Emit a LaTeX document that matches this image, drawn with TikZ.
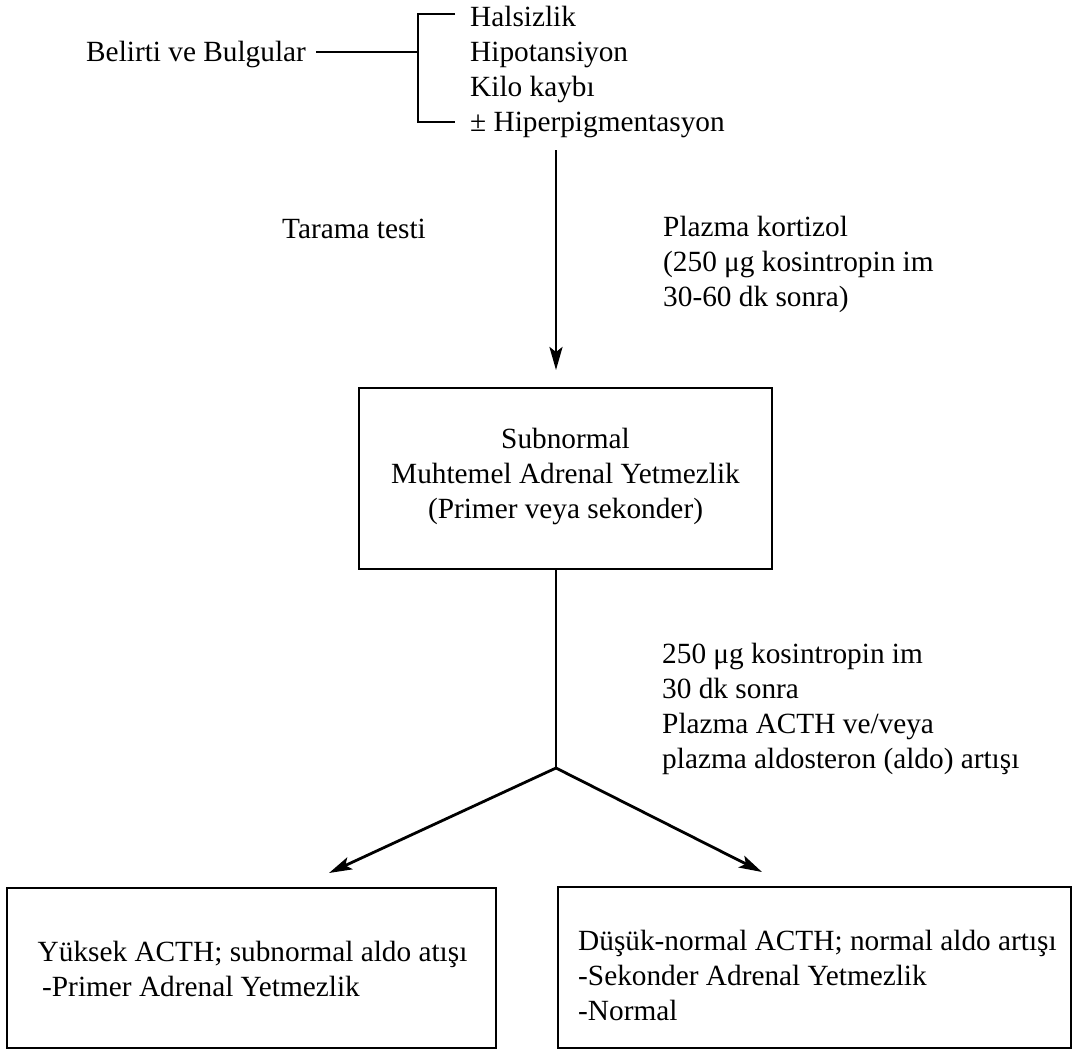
\documentclass[tikz,border=0pt]{standalone}
\usepackage{fontspec}
\setmainfont{Liberation Serif}
\usetikzlibrary{arrows.meta}
\begin{document}
\begin{tikzpicture}[x=1pt,y=-1pt,
  every node/.style={inner sep=0pt, font=\fontsize{29.3}{35}\selectfont},
  txt/.style={anchor=west, align=left},
  boxn/.style={draw, line width=2.8pt, inner sep=0pt},
  ln/.style={line width=2.8pt},
  arr/.style={line width=2.8pt, -{Stealth[length=23pt,width=13pt,inset=5pt]}}]
\useasboundingbox (0,0) rectangle (1075,1053);
% top
\node[txt] (bel) at (86,54) {Belirti ve Bulgular};
\node[txt] (list) at (470,71.5) {Halsizlik\\Hipotansiyon\\Kilo kaybı\\± Hiperpigmentasyon};
\coordinate (br) at (418,52);
\coordinate (bt) at (418,14);
\coordinate (bb) at (418,122);
\coordinate (btr) at (455,14);
\coordinate (bbr) at (455,122);
\draw[ln] (316,52) coordinate (bs) -- (br);
\draw[ln] (btr) -- (bt) -- (bb) -- (bbr);
% screening
\node[txt] (tar) at (282,229) {Tarama testi};
\node[txt] (kor) at (663,264.5) {Plazma kortizol\\(250 μg kosintropin im\\30-60 dk sonra)};
\node[boxn, minimum width=413pt, minimum height=181pt] (b1) at (565.5,478.5) {};
\node[align=center] (b1t) at (565.5,476) {Subnormal\\Muhtemel Adrenal Yetmezlik\\(Primer veya sekonder)};
\coordinate (top) at (556,150);
\coordinate (b1in) at (556,388);
\draw[arr, shorten >=18pt] (top) -- (b1in);
% second test
\coordinate (b1out) at (556,569);
\coordinate (j) at (556,768);
\draw[ln] (b1out) -- (j);
\node[txt] (acth) at (662,708.5) {250 μg kosintropin im\\30 dk sonra\\Plazma ACTH ve/veya\\plazma aldosteron (aldo) artışı};
% result boxes
\node[boxn, minimum width=489pt, minimum height=160pt] (b2) at (251.5,968) {};
\node[boxn, minimum width=513pt, minimum height=161pt] (b3) at (814.5,967.5) {};
\node[txt] (t2) at (37.5,968.5) {Yüksek ACTH; subnormal aldo atışı\\\hspace{4.5pt}-Primer Adrenal Yetmezlik};
\node[txt] (t3) at (578,975) {Düşük-normal ACTH; normal aldo artışı\\-Sekonder Adrenal Yetmezlik\\-Normal};
\coordinate (tl) at (329,873);
\coordinate (tr) at (762,872);
\draw[arr] (j) -- (tl);
\draw[arr] (j) -- (tr);
\end{tikzpicture}
\end{document}
